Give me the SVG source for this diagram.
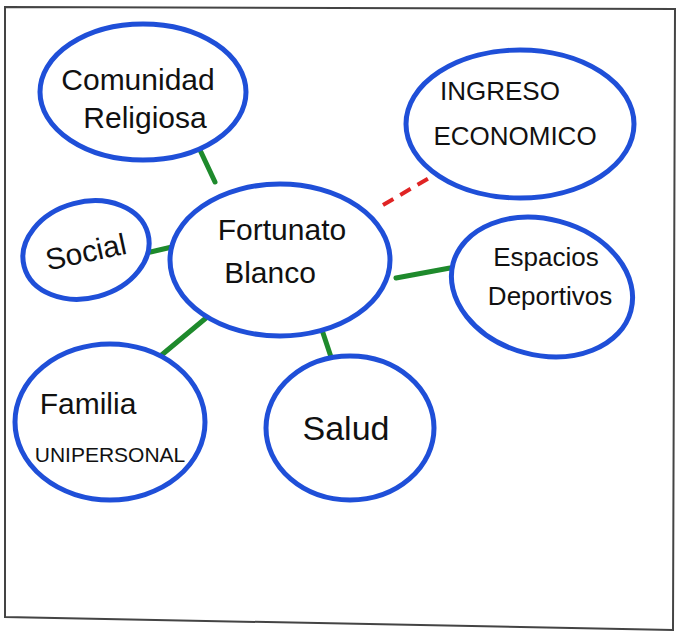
<svg xmlns="http://www.w3.org/2000/svg" width="679" height="631" viewBox="0 0 679 631">
<style>
.node{fill:#fff;stroke:#1f4fd8;stroke-width:5}
.lbl{font-family:"Liberation Sans",Arial,sans-serif;fill:#111;text-anchor:middle;font-size:30px}
.sm{font-size:26px}
.xs{font-size:21px}
.lg{font-size:34px}
.tie{stroke:#1e8a2c;stroke-width:5;stroke-linecap:round;fill:none}
.weak{stroke:#e02424;stroke-width:4;stroke-dasharray:12 8;fill:none}
</style>
<rect width="679" height="631" fill="#fff"/>
<path d="M5 7 L675 9 L673 630 L5 617 Z" fill="none" stroke="#444" stroke-width="2"/>
<g id="connectors">
<line class="tie" x1="200" y1="150" x2="215" y2="182"/>
<line class="tie" x1="142" y1="254" x2="172" y2="247"/>
<line class="tie" x1="212" y1="313" x2="158" y2="358"/>
<line class="tie" x1="322" y1="330" x2="332" y2="360"/>
<line class="tie" x1="396" y1="278" x2="450" y2="268"/>
<line class="weak" x1="383" y1="205" x2="436" y2="174"/>
</g>
<g id="comunidad">
<ellipse class="node" cx="143" cy="92" rx="103" ry="68"/>
<text class="lbl" x="138" y="90">Comunidad</text>
<text class="lbl" x="145" y="128">Religiosa</text>
</g>
<g id="ingreso">
<ellipse class="node" cx="520" cy="124" rx="114" ry="74"/>
<text class="lbl sm" x="500" y="100">INGRESO</text>
<text class="lbl sm" x="515" y="145">ECONOMICO</text>
</g>
<g id="fortunato">
<ellipse class="node" cx="280" cy="260" rx="110" ry="76"/>
<text class="lbl" x="282" y="240">Fortunato</text>
<text class="lbl" x="270" y="283">Blanco</text>
</g>
<g id="social">
<ellipse class="node" cx="86" cy="250" rx="64" ry="48" transform="rotate(-15 86 250)"/>
<text class="lbl" x="88" y="262" transform="rotate(-12 88 262)">Social</text>
</g>
<g id="espacios">
<ellipse class="node" cx="542" cy="287" rx="92" ry="68" transform="rotate(15 542 287)"/>
<text class="lbl sm" x="546" y="266">Espacios</text>
<text class="lbl sm" x="550" y="305">Deportivos</text>
</g>
<g id="familia">
<ellipse class="node" cx="110" cy="422" rx="95" ry="78"/>
<text class="lbl" x="88" y="414">Familia</text>
<text class="lbl xs" x="110" y="462">UNIPERSONAL</text>
</g>
<g id="salud">
<ellipse class="node" cx="350" cy="428" rx="84" ry="72"/>
<text class="lbl lg" x="346" y="440">Salud</text>
</g>
</svg>
